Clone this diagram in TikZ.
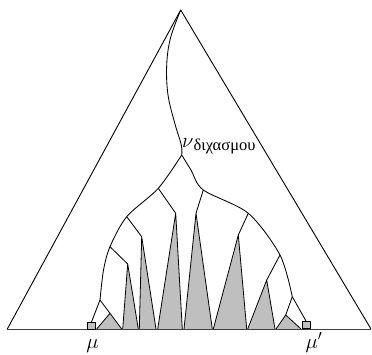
\documentclass[tikz,border=0pt]{standalone}
\usepackage{fontspec}
\newfontfamily\grfont{Liberation Serif}
\begin{document}
\begin{tikzpicture}[x=1pt,y=-1pt,line join=round,
  edge/.style={line width=0.9pt},
  branch/.style={line width=0.85pt},
  spike/.style={fill=black!25,draw=black,line width=0.8pt},
  endbox/.style={fill=black!25,draw=black,line width=0.7pt}]
\useasboundingbox (0,0) rectangle (372,354);
% big triangle
\coordinate (A) at (180.7,10);
\coordinate (BL) at (7.3,329);
\coordinate (BR) at (371,329);
\draw[edge] (BL) -- (A) -- (BR);
% branch points
\coordinate (B0) at (181.7,155);
\coordinate (L1) at (158.3,188.3);
\coordinate (L2) at (126.7,216.7);
\coordinate (L3) at (110,246.7);
\coordinate (L4) at (100,300);
\coordinate (R1) at (203.3,190);
\coordinate (R2) at (248.3,213.3);
\coordinate (R3) at (280,255);
\coordinate (R4) at (292.3,296.7);
\coordinate (SL) at (91.5,322);
\coordinate (SR) at (306,321);
% spikes: apex coordinates
\coordinate (T0) at (110,313.3);
\coordinate (T1) at (127.7,264);
\coordinate (T2) at (141.7,236.7);
\coordinate (T3) at (175.7,213.3);
\coordinate (T4) at (196,213.3);
\coordinate (T5) at (238.3,235);
\coordinate (T6) at (266.7,280);
\coordinate (T7) at (285.7,315);
\draw[spike] (96.7,329) -- (T0) -- (121.7,329);
\draw[spike] (122.7,329) -- (T1) -- (138.3,329);
\draw[spike] (139.3,329) -- (T2) -- (156,329);
\draw[spike] (157.7,329) -- (T3) -- (182.3,329);
\draw[spike] (184,329) -- (T4) -- (212.3,329);
\draw[spike] (213.3,329) -- (T5) -- (246.7,329);
\draw[spike] (247.7,329) -- (T6) -- (275,329);
\draw[spike] (276,329) -- (T7) -- (301,329);
% base line
\draw[line width=0.9pt,black!75] (BL) -- (BR);
% end boxes
\draw[endbox] (87.5,322) rectangle (95.5,329);
\draw[endbox] (302,321) rectangle (310,328.5);
% stem from apex
\draw[branch] plot[smooth,tension=0.6] coordinates {(A) (170.5,38) (166.7,65) (168,95) (175,124) (181.3,145) (B0)};
% envelope
\draw[branch] plot[smooth,tension=0.5] coordinates {(B0) (L1) (L2) (L3) (103.5,270) (L4)};
\draw[branch] plot[smooth,tension=0.5] coordinates {(B0) (191,170) (R1) (R2) (R3) (R4)};
\draw[branch] (L4) -- (SL);
\draw[branch] (R4) -- (SR);
% side branches
\draw[branch] (L1) -- (T3);
\draw[branch] (L2) -- (T2);
\draw[branch] (L3) -- (T1);
\draw[branch] (L4) -- (T0);
\draw[branch] (R1) -- (T4);
\draw[branch] (R2) -- (T5);
\draw[branch] (R3) -- (T6);
\draw[branch] (R4) -- (T7);
% labels
\node[anchor=base west,inner sep=0pt] (nu) at (182,147) {\fontsize{21}{24}\selectfont$\nu$\raisebox{-3.5pt}{\grfont\fontsize{16.5}{18}\selectfont διχασμου}};
\node[anchor=base,inner sep=0pt] (mu) at (92.5,348) {\fontsize{20}{24}\selectfont$\mu$};
\node[anchor=base,inner sep=0pt] (mup) at (314,348) {\fontsize{20}{24}\selectfont$\mu'$};
\end{tikzpicture}
\end{document}
